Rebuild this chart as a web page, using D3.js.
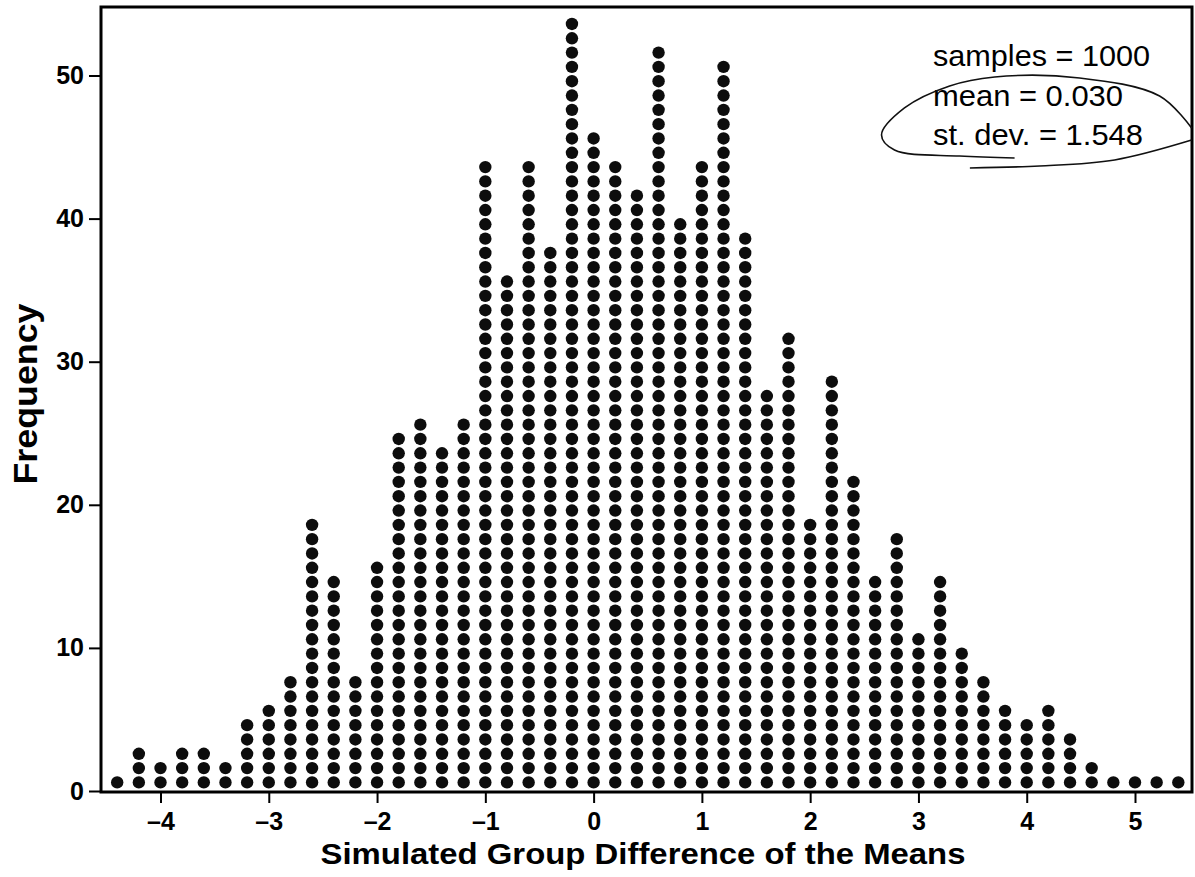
<!DOCTYPE html>
<html><head><meta charset="utf-8">
<script src="https://cdn.jsdelivr.net/npm/d3@7"></script>
<style>html,body{margin:0;padding:0;background:#fff}</style>
</head><body><svg id="c" width="1195" height="877"></svg>
<script>
// ---- data ----
const diffValues = [-4.4,-4.2,-4.0,-3.8,-3.6,-3.4,-3.2,-3.0,-2.8,-2.6,-2.4,-2.2,-2.0,-1.8,-1.6,-1.4,-1.2,-1.0,-0.8,-0.6,-0.4,-0.2,0.0,0.2,0.4,0.6,0.8,1.0,1.2,1.4,1.6,1.8,2.0,2.2,2.4,2.6,2.8,3.0,3.2,3.4,3.6,3.8,4.0,4.2,4.4,4.6,4.8,5.0,5.2,5.4];
const frequencies = [1,3,2,3,3,2,5,6,8,19,15,8,16,25,26,24,26,44,36,44,38,54,46,44,42,52,40,44,51,39,28,32,19,29,22,15,18,11,15,10,8,6,5,6,4,2,1,1,1,1];
const xTickValues = [-4,-3,-2,-1,0,1,2,3,4,5];
const yTickValues = [0,10,20,30,40,50];
const statsLines = ["samples = 1000","mean = 0.030","st. dev. = 1.548"];
const xTitle = "Simulated Group Difference of the Means";
const yTitle = "Frequency";
// hand-drawn loop around the stats (data units)
const loopStroke1 = [[3.888,44.23],[3.380,44.37],[2.779,44.79],[2.659,45.84],[2.871,47.73],[3.288,49.27],[3.704,49.90],[4.488,49.83],[5.227,48.57],[5.523,46.33]];
const loopStroke2 = [[3.475,43.54],[4.119,43.68],[4.812,44.10],[5.523,45.49]];

// ---- layout ----
const svg = d3.select("#c");
const frame = {left:101, right:1192, top:7, bottom:792};
const x = d3.scaleLinear().domain([-4,5]).range([160.5,1135]);
const y = d3.scaleLinear().domain([0,50]).range([791,75.5]);
const font = "'Liberation Sans', Arial, Helvetica, sans-serif";

svg.append("rect").attr("width",1195).attr("height",877).attr("fill","#fff");

// dots
const dots = [];
diffValues.forEach((v,i)=>{ for(let k=1;k<=frequencies[i];k++) dots.push({v,k}); });
svg.append("g").selectAll("circle").data(dots).join("circle")
  .attr("cx",d=>x(d.v)).attr("cy",d=>y(d.k-0.4)).attr("r",6.2).attr("fill","#0d0d0d");

// frame
svg.append("rect").attr("x",frame.left).attr("y",frame.top)
  .attr("width",frame.right-frame.left).attr("height",frame.bottom-frame.top)
  .attr("fill","none").attr("stroke","#000").attr("stroke-width",3);

// axes
const fmt = d => d<0 ? "\u2013"+Math.abs(d) : String(d);
const gx = svg.append("g").attr("transform",`translate(0,${frame.bottom})`)
  .call(d3.axisBottom(x).tickValues(xTickValues).tickSize(11).tickPadding(9).tickFormat(fmt));
const gy = svg.append("g").attr("transform",`translate(${frame.left},0)`)
  .call(d3.axisLeft(y).tickValues(yTickValues).tickSize(12).tickPadding(5));
[gx,gy].forEach(g=>{
  g.select(".domain").remove();
  g.selectAll(".tick line").attr("stroke","#000").attr("stroke-width",2);
  g.selectAll(".tick text").attr("fill","#000").style("font-family",font)
    .style("font-size","25px").style("font-weight","bold");
});

// titles
svg.append("text").attr("x",643).attr("y",864).attr("text-anchor","middle")
  .attr("textLength",645).attr("lengthAdjust","spacingAndGlyphs")
  .style("font-family",font).style("font-size","30px").style("font-weight","bold").text(xTitle);
svg.append("text").attr("transform","translate(37,394) rotate(-90)").attr("text-anchor","middle")
  .attr("textLength",181).attr("lengthAdjust","spacingAndGlyphs")
  .style("font-family",font).style("font-size","34px").style("font-weight","bold").text(yTitle);

// stats text
const statBase = [66,106,145];
const statLen = [217,190,210];
svg.append("g").selectAll("text").data(statsLines).join("text")
  .attr("x",933).attr("y",(d,i)=>statBase[i])
  .attr("textLength",(d,i)=>statLen[i]).attr("lengthAdjust","spacingAndGlyphs")
  .style("font-family",font).style("font-size","29px").text(d=>d);

// hand-drawn loop
const line = d3.line().x(d=>x(d[0])).y(d=>y(d[1])).curve(d3.curveCatmullRom);
[loopStroke1,loopStroke2].forEach(s=>{
  svg.append("path").attr("d",line(s)).attr("fill","none").attr("stroke","#111").attr("stroke-width",1.6);
});
</script></body></html>
